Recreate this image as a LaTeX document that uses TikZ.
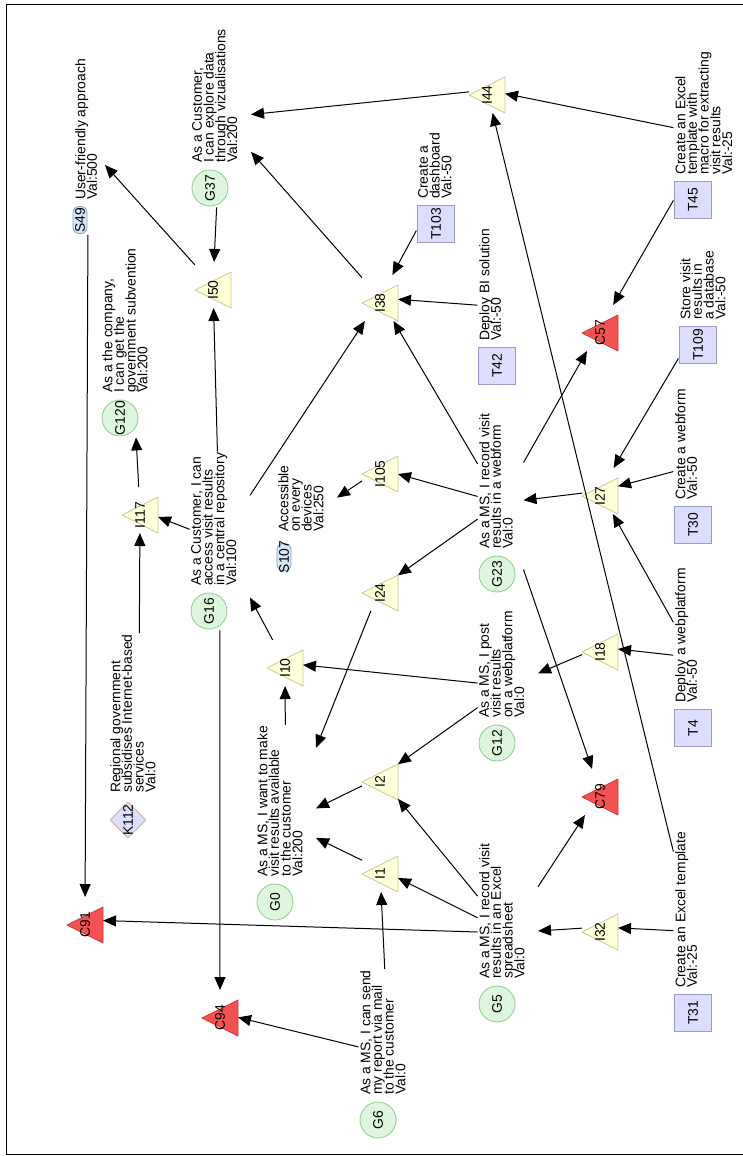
\documentclass[tikz,border=0pt]{standalone}
\usepackage{fontspec}
\setmainfont{Liberation Sans}
\usetikzlibrary{arrows.meta,fit,shapes.geometric,calc}

\definecolor{goalfill}{HTML}{DDF6DD}
\definecolor{goalline}{HTML}{92C892}
\definecolor{ifill}{HTML}{FFFFDA}
\definecolor{iline}{HTML}{C8C89A}
\definecolor{cfill}{HTML}{F25252}
\definecolor{cline}{HTML}{D03A3A}
\definecolor{tfill}{HTML}{DDDDFF}
\definecolor{tline}{HTML}{9A9ACC}
\definecolor{sfill}{HTML}{D8E6FA}
\definecolor{sline}{HTML}{82A0CE}
\definecolor{kline}{HTML}{C8AA86}

\newcommand\diagfont{\fontsize{13.9}{11.7}\selectfont\lineskiplimit=-50pt\relax}

\tikzset{
  x={(1pt,0)}, y={(0,-1pt)},
  every node/.style={font=\diagfont},
  goalshape/.style={circle, draw=goalline, fill=goalfill, line width=0.8pt,
    minimum size=36pt, inner sep=0pt, rotate=90},
  taskshape/.style={rectangle, draw=tline, fill=tfill, line width=0.8pt,
    minimum size=36.5pt, inner sep=0pt, rotate=90},
  softshape/.style={rectangle, rounded corners=6pt, draw=sline, fill=sfill,
    line width=0.8pt, minimum width=14pt, minimum height=27pt, inner sep=0pt},
  kshape/.style={diamond, draw=kline, fill=tfill, line width=0.8pt,
    minimum size=36pt, inner sep=0pt},
  lbl/.style={rotate=90, anchor=north west, align=left, inner sep=0pt},
  idtext/.style={rotate=90, inner sep=0pt},
  comp/.style={inner sep=1pt, outer sep=0pt},
  tribox/.style={minimum width=36pt, minimum height=46pt, inner sep=0pt, outer sep=0pt},
  itri/.style={draw=iline, fill=ifill, line width=0.8pt, line join=round},
  ctri/.style={draw=cline, fill=cfill, line width=0.8pt, line join=round},
  arr/.style={-{Triangle[length=13pt,width=11pt]}, line width=1pt},
}

% goal or task: shape with its id, label block above-right, and an
% invisible box round both that the connectors attach to
\newcommand\goalnode[7]{% style, name, id, x, y, lines, text
  \node[#1] (#2s) at (#4,#5) {#3};
  \node[lbl] (#2l) at ({#4-18},{#5-25}) {#7};
  \coordinate (#2e) at ({#4-18+14.5*#6},{#5-25});
  \node[comp, fit=(#2s)(#2l)(#2e)] (#2) {};
}
% softgoal or context node: empty shape, id on top, free label position
\newcommand\softnode[9]{% style, name, id, x, y, lx, ly, lines, text
  \node[#1] (#2s) at (#4,#5) {};
  \node[idtext] at (#4,#5) {#3};
  \node[lbl] (#2l) at (#6,#7) {#9};
  \coordinate (#2e) at ({#6+14.5*#8},#7);
  \node[comp, fit=(#2s)(#2l)(#2e)] (#2) {};
}
% triangle pointing left, with its id and connection box
\newcommand\trinode[5]{% style, name, id, x, y
  \draw[#1] ({#4-18},#5) -- ({#4+18},{#5-18}) -- ({#4+18},{#5+18}) -- cycle;
  \node[idtext] at (#4,#5) {#3};
  \node[tribox] (#2) at (#4,{#5-5}) {};
}

\begin{document}
\begin{tikzpicture}
\useasboundingbox (0,0) rectangle (743,1156);
\draw[line width=1pt] (743,5) -- (6,5) -- (6,1154.5) -- (743,1154.5);

% goals
\goalnode{goalshape}{g37}{G37}{210}{188}{4}{As a Customer,\\I can explore data\\through vizualisations\\Val:200}
\goalnode{goalshape}{g120}{G120}{120}{418}{4}{As a the company,\\I can get the\\government subvention\\Val:200}
\goalnode{goalshape}{g16}{G16}{209}{611}{4}{As a Customer, I can\\access visit results\\in a central repository\\Val:100}
\goalnode{goalshape}{g23}{G23}{497}{574}{3}{As a MS, I record visit\\results in a webform\\Val:0}
\goalnode{goalshape}{g12}{G12}{497}{743}{4}{As a MS, I post\\visit results\\on a webplatform\\Val:0}
\goalnode{goalshape}{g0}{G0}{275}{902}{4}{As a MS, I want to make\\visit results available\\to the customer\\Val:200}
\goalnode{goalshape}{g5}{G5}{497}{1004}{4}{As a MS, I record visit\\results in an Excel\\spreadsheet\\Val:0}
\goalnode{goalshape}{g6}{G6}{378}{1120}{4}{As a MS, I can send\\my report via mail\\to the customer\\Val:0}

% tasks
\goalnode{taskshape}{t45}{T45}{693}{200}{5}{Create an Excel\\template with\\macro for extracting\\visit results\\Val:-25}
\goalnode{taskshape}{t103}{T103}{436}{224}{3}{Create a\\dashboard\\Val:-50}
\goalnode{taskshape}{t42}{T42}{497}{366}{2}{Deploy BI solution\\Val:-50}
\goalnode{taskshape}{t109}{T109}{698}{345}{4}{Store visit\\results in\\a database\\Val:-50}
\goalnode{taskshape}{t30}{T30}{693}{525}{2}{Create a webform\\Val:-50}
\goalnode{taskshape}{t4}{T4}{693}{728}{2}{Deploy a webplatform\\Val:-50}
\goalnode{taskshape}{t31}{T31}{693}{1013}{2}{Create an Excel template\\Val:-25}

% softgoals and context
\softnode{softshape}{s49}{S49}{80}{220}{75}{200}{2}{User-friendly approach\\Val:500}
\softnode{softshape}{s107}{S107}{284}{557}{278}{532}{4}{Accessible\\on every\\devices\\Val:250}
\softnode{kshape}{k112}{K112}{128}{820}{110}{793}{4}{Regional government\\subsidises Internet-based\\services\\Val:0}

% intermediate and conflict triangles
\trinode{itri}{i44}{I44}{487}{95}
\trinode{itri}{i50}{I50}{213}{290}
\trinode{itri}{i38}{I38}{380}{303}
\trinode{itri}{i117}{I117}{140}{515}
\trinode{itri}{i105}{I105}{380}{474}
\trinode{itri}{i27}{I27}{600}{496}
\trinode{itri}{i24}{I24}{380}{593}
\trinode{itri}{i18}{I18}{600}{652}
\trinode{itri}{i10}{I10}{285}{668}
\trinode{itri}{i2}{I2}{380}{782}
\trinode{itri}{i1}{I1}{380}{874}
\trinode{itri}{i32}{I32}{600}{932}
\trinode{ctri}{c57}{C57}{600}{333}
\trinode{ctri}{c79}{C79}{600}{797}
\trinode{ctri}{c91}{C91}{85}{925}
\trinode{ctri}{c94}{C94}{220}{1018}

% connectors
\draw[arr] (g37) -- (i50);
\draw[arr] (i50) -- (s49);
\draw[arr] (i44) -- (g37);
\draw[arr] (i38) -- (g37);
\draw[arr] (t45) -- (i44);
\draw[arr] (t31) -- (i44);
\draw[arr] (t103) -- (i38);
\draw[arr] (t42) -- (i38);
\draw[arr] (g23) -- (i38);
\draw[arr] (g16) -- (i38);
\draw[arr] (g16) -- (i50);
\draw[arr] (g16) -- (i117);
\draw[arr] (i117) -- (g120);
\draw[arr] (k112) -- (i117);
\draw[arr] (s49) -- (c91);
\draw[arr] (g16) -- (c94);
\draw[arr] (i105) -- (s107);
\draw[arr] (g23) -- (i105);
\draw[arr] (g23) -- (i24);
\draw[arr] (g23) -- (c57);
\draw[arr] (i27) -- (g23);
\draw[arr] (t30) -- (i27);
\draw[arr] (t109) -- (i27);
\draw[arr] (t4) -- (i27);
\draw[arr] (t45) -- (c57);
\draw[arr] (g23) -- (c79);
\draw[arr] (i18) -- (g12);
\draw[arr] (t4) -- (i18);
\draw[arr] (g12) -- (i10);
\draw[arr] (g12) -- (i2);
\draw[arr] (i24) -- (g0);
\draw[arr] (i10) -- (g16);
\draw[arr] (g0) -- (i10);
\draw[arr] (i2) -- (g0);
\draw[arr] (i1) -- (g0);
\draw[arr] (g5) -- (i2);
\draw[arr] (g5) -- (i1);
\draw[arr] (g5) -- (c79);
\draw[arr] (g5) -- (c91);
\draw[arr] (i32) -- (g5);
\draw[arr] (t31) -- (i32);
\draw[arr] (g6) -- (i1);
\draw[arr] (g6) -- (c94);
\end{tikzpicture}
\end{document}
